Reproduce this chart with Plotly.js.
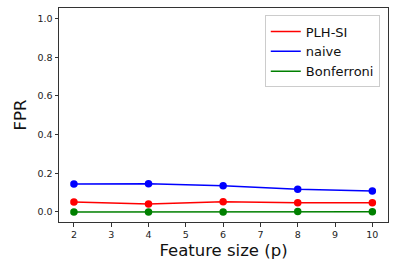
<!DOCTYPE html>
<html><head><meta charset="utf-8">
<script src="https://cdn.plot.ly/plotly-3.0.1.min.js"></script>
<style>body{margin:0;background:#fff}#c{width:394px;height:264px}</style>
</head><body><div id="c"></div>
<script>
var featureSize = [2, 4, 6, 8, 10];
var plhSI = [0.052, 0.041, 0.053, 0.047, 0.047];
var naive = [0.145, 0.146, 0.136, 0.117, 0.109];
var bonferroni = [0.0, 0.0, 0.0, 0.002, 0.001];
var seriesNames = ['PLH-SI', 'naive', 'Bonferroni'];
var xTicks = [2, 3, 4, 5, 6, 7, 8, 9, 10];
var yTicks = [0.0, 0.2, 0.4, 0.6, 0.8, 1.0];

var colors = ['red', 'blue', 'green'];
var series = [plhSI, naive, bonferroni];
var data = [];
series.forEach(function (y, i) {
  data.push({x: featureSize, y: y, name: seriesNames[i], type: 'scatter', mode: 'lines+markers', showlegend: false,
    line: {color: colors[i], width: 1.5}, marker: {color: colors[i], size: 7.5}});
});
series.forEach(function (y, i) {
  data.push({x: [featureSize[0]], y: [null], name: seriesNames[i], type: 'scatter', mode: 'lines',
    line: {color: colors[i], width: 1.5}});
});
var ax = {showgrid: false, zeroline: false, showline: true, mirror: true, linecolor: '#333', linewidth: 1,
  ticks: 'outside', ticklen: 3.5, tickcolor: '#333', tickfont: {family: 'DejaVu Sans', size: 9.5, color: '#222'}};
var layout = {
  width: 394, height: 264, margin: {l: 59, r: 6, t: 8, b: 42},
  paper_bgcolor: '#fff', plot_bgcolor: '#fff', showlegend: true,
  xaxis: Object.assign({}, ax, {range: [1.6, 10.42], tickvals: xTicks, ticktext: xTicks.map(String),
    title: {text: 'Feature size (p)', font: {family: 'DejaVu Sans', size: 16.5, color: '#111'}, standoff: 5}}),
  yaxis: Object.assign({}, ax, {range: [-0.052, 1.055], tickvals: yTicks, ticktext: yTicks.map(function(v){return v.toFixed(1);}),
    title: {text: 'FPR', font: {family: 'DejaVu Sans', size: 16.5, color: '#111'}, standoff: 6}}),
  legend: {x: 0.975, y: 0.965, xanchor: 'right', yanchor: 'top', bordercolor: '#ccc', borderwidth: 1,
    tracegroupgap: 0, itemwidth: 30,
    bgcolor: 'rgba(255,255,255,0.8)', font: {family: 'DejaVu Sans', size: 13, color: '#111'}}
};
Plotly.newPlot('c', data, layout, {staticPlot: true});
</script></body></html>
